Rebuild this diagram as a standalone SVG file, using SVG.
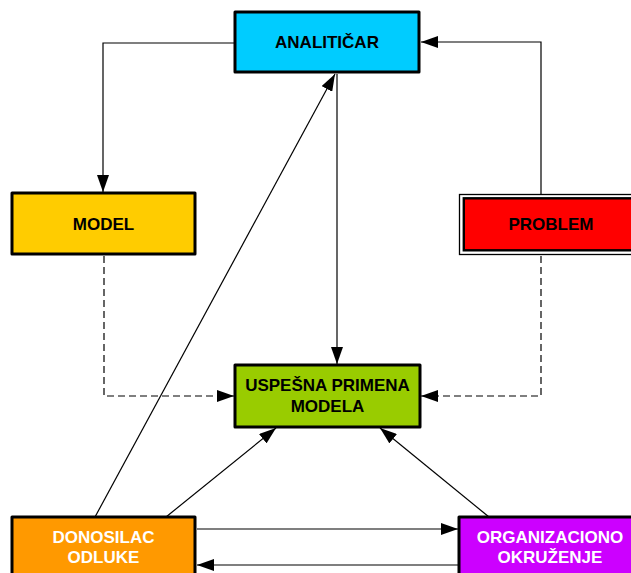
<svg xmlns="http://www.w3.org/2000/svg" width="631" height="573" viewBox="0 0 631 573">
<style>
.box{stroke:#000;stroke-width:3;stroke-linejoin:round}
.t{font-family:"Liberation Sans",Arial,sans-serif;font-weight:bold;font-size:17px;text-anchor:middle}
.dk{fill:#000}
.wt{fill:#fff}
.ln{fill:none;stroke:#000;stroke-width:1.2}
.ds{stroke-dasharray:7,4}
</style>
<defs>
<marker id="ah" viewBox="0 0 17 12" refX="17" refY="6" markerWidth="17" markerHeight="12" markerUnits="userSpaceOnUse" orient="auto">
<path d="M0,0 L17,6 L0,12 z" fill="#000"/>
</marker>
</defs>
<rect width="631" height="573" fill="#fff"/>
<g id="connectors">
<path class="ln" d="M235,43 H103 V192" marker-end="url(#ah)"/>
<path class="ln" d="M541,194 V42 H421" marker-end="url(#ah)"/>
<path class="ln" d="M337,74 V364" marker-end="url(#ah)"/>
<path class="ln ds" d="M104,256 V396 H234" marker-end="url(#ah)"/>
<path class="ln ds" d="M541,256 V396 H421" marker-end="url(#ah)"/>
<path class="ln" d="M95,517 L335,74" marker-end="url(#ah)"/>
<path class="ln" d="M166,517 L276,428" marker-end="url(#ah)"/>
<path class="ln" d="M489,517 L380,428" marker-end="url(#ah)"/>
<path class="ln" d="M197,529 H458" marker-end="url(#ah)"/>
<path class="ln" d="M458,565 H197" marker-end="url(#ah)"/>
</g>
<g id="analiticar">
<rect class="box" x="235" y="12" width="184" height="60" fill="#00CCFF"/>
<text class="t dk" x="327" y="48">ANALITIČAR</text>
</g>
<g id="model">
<rect class="box" x="12" y="193" width="183" height="61" fill="#FFCC00"/>
<text class="t dk" x="103.5" y="230">MODEL</text>
</g>
<g id="problem">
<rect x="459.5" y="194.5" width="190" height="60" fill="#fff" stroke="#000" stroke-width="1.3"/>
<rect x="463.8" y="198.3" width="190" height="52" fill="#FF0000" stroke="#000" stroke-width="2.4"/>
<text class="t dk" x="551" y="230">PROBLEM</text>
</g>
<g id="uspesna">
<rect class="box" x="235" y="365" width="185" height="62" fill="#99CC00"/>
<text class="t dk" x="327.5" y="391">USPEŠNA PRIMENA</text>
<text class="t dk" x="327.5" y="412">MODELA</text>
</g>
<g id="donosilac">
<rect class="box" x="12" y="517" width="183" height="70" fill="#FF9900"/>
<text class="t wt" x="103.5" y="543">DONOSILAC</text>
<text class="t wt" x="103.5" y="563">ODLUKE</text>
</g>
<g id="organizaciono">
<rect class="box" x="459" y="517" width="183" height="70" fill="#CC00FF"/>
<text class="t wt" x="550" y="543">ORGANIZACIONO</text>
<text class="t wt" x="550" y="563">OKRUŽENJE</text>
</g>
</svg>
